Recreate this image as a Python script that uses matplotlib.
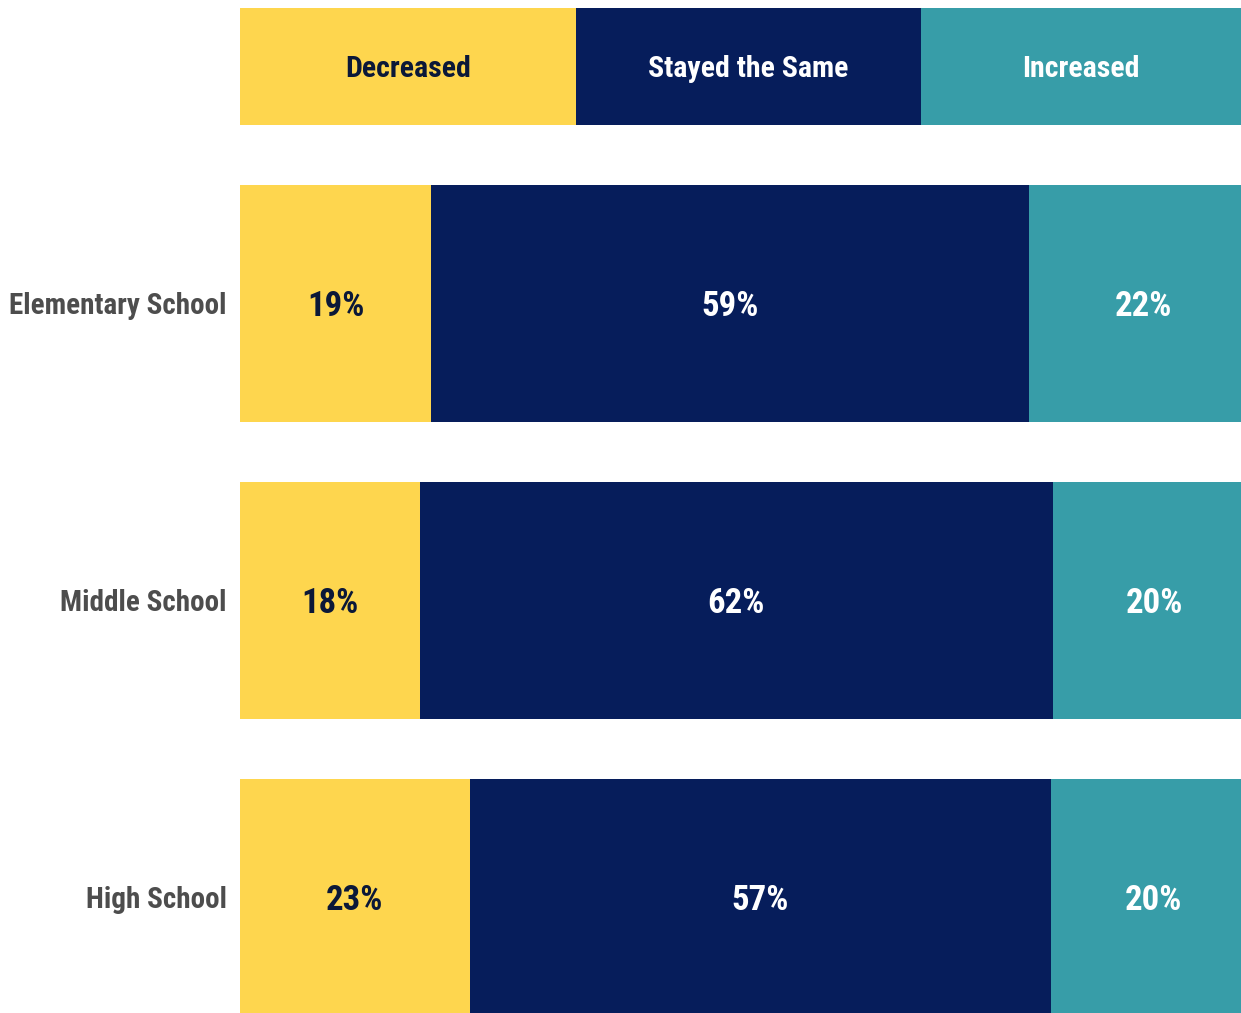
import matplotlib.pyplot as plt
import numpy as np

categories = ["Elementary School", "Middle School", "High School"]
series = ["Decreased", "Stayed the Same", "Increased"]
decreased = [18.8, 17.7, 22.6]
stayed = [58.8, 62.2, 57.1]
increased = [22.4, 20.1, 20.3]
labels = [["19%", "18%", "23%"], ["59%", "62%", "57%"], ["22%", "20%", "20%"]]
header_widths = [33.0, 34.0, 33.0]

colors = ["#FED64E", "#061D5B", "#379DA8"]
text_colors = ["#0B1838", "white", "white"]
font = ["Roboto Condensed", "DejaVu Sans"]

fig = plt.figure(figsize=(12.41, 10.13), dpi=100)
# axis runs a bit past the right edge, like the cropped original
ax = fig.add_axes([240 / 1241, 0, 1017 / 1241, 1])
ax.set_xlim(0, 100)
ax.set_ylim(2.389, -1.022)
ax.axis("off")

dy = 0.01  # small nudge down for the text
pos = np.arange(len(categories))
left = np.zeros(len(categories))
for i, vals in enumerate([decreased, stayed, increased]):
    vals = np.array(vals)
    ax.barh(pos, vals, left=left, height=0.798, color=colors[i], linewidth=0)
    for j in range(len(categories)):
        ax.text(left[j] + vals[j] / 2, pos[j] + dy, labels[i][j], ha="center", va="center",
                color=text_colors[i], fontsize=25, fontweight="bold", family=font,
                fontstretch="condensed")
    left += vals

# header row used as legend
hx = 0.0
for i, w in enumerate(header_widths):
    ax.barh(-0.798, w, left=hx, height=0.394, color=colors[i], linewidth=0)
    ax.text(hx + w / 2 - (0.8 if i == 2 else 0), -0.798 + dy, series[i], ha="center",
            va="center", color=text_colors[i], fontsize=21.5, fontweight="bold",
            family=font, fontstretch="condensed")
    hx += w

for j, c in enumerate(categories):
    ax.text(-1.3, pos[j] + dy, c, ha="right", va="center", color="#4D4D4D",
            fontsize=21, fontweight="bold", family=font, fontstretch="condensed")

fig.savefig("out.png", dpi=100)
